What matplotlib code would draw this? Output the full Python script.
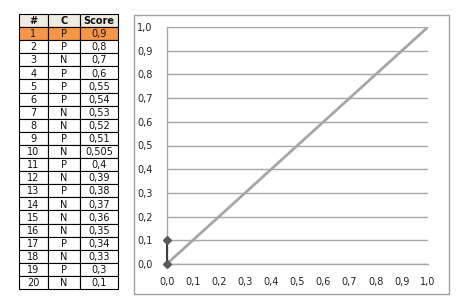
import matplotlib.pyplot as plt
from matplotlib.patches import Rectangle
import numpy as np

# ranked instances: rank, true class, classifier score
ranks = list(range(1, 21))
classes = ["P", "P", "N", "P", "P", "P", "N", "N", "P", "N",
           "P", "N", "P", "N", "N", "N", "P", "N", "P", "N"]
scores = ["0,9", "0,8", "0,7", "0,6", "0,55", "0,54", "0,53", "0,52", "0,51", "0,505",
          "0,4", "0,39", "0,38", "0,37", "0,36", "0,35", "0,34", "0,33", "0,3", "0,1"]
headers = ["#", "C", "Score"]

# ROC points so far (threshold at first instance) and the diagonal
roc_fpr = [0.0, 0.0]
roc_tpr = [0.0, 0.1]
diag_x = [0.0, 1.0]
diag_y = [0.0, 1.0]
ticks = [0.0, 0.1, 0.2, 0.3, 0.4, 0.5, 0.6, 0.7, 0.8, 0.9, 1.0]

W, H = 474, 306
fig = plt.figure(figsize=(W / 100, H / 100), dpi=100)
fig.patch.set_facecolor("white")


def px_axes(x0, y0, x1, y1):
    # axes from pixel box (top-left origin)
    return fig.add_axes([x0 / W, 1 - y1 / H, (x1 - x0) / W, (y1 - y0) / H])


# ---- table ----
tab = px_axes(19, 14, 118, 289)
tab.set_axis_off()
col_w = [29, 32, 38]
col_x = np.concatenate([[0], np.cumsum(col_w)])
nrows = len(ranks) + 1
tab.set_xlim(0, col_x[-1])
tab.set_ylim(nrows, 0)

for r in range(nrows):
    if r == 0:
        bg = "#eeece1"
        cells = headers
    else:
        bg = "#f79646" if r == 1 else "white"
        cells = [str(ranks[r - 1]), classes[r - 1], scores[r - 1]]
    for c in range(3):
        tab.add_patch(Rectangle((col_x[c], r), col_w[c], 1, facecolor=bg,
                                edgecolor="black", linewidth=0.8, clip_on=False))
        tab.text((col_x[c] + col_x[c + 1]) / 2, r + 0.55, cells[c],
                 ha="center", va="center", fontsize=7, color="#111111",
                 fontweight="bold" if r == 0 else "normal")

# ---- chart ----
frame = Rectangle((134 / W, 1 - 294 / H), (449 - 134) / W, (294 - 15) / H,
                  transform=fig.transFigure, facecolor="white",
                  edgecolor="#a0a0a0", linewidth=1.0, zorder=-1)
fig.patches.append(frame)

ax = px_axes(166.7, 27, 428, 264)
ax.patch.set_alpha(0)
ax.set_xlim(0, 1)
ax.set_ylim(0, 1)
ax.set_xticks(ticks)
ax.set_yticks(ticks)
ax.set_xticklabels([f"{t:.1f}".replace(".", ",") for t in ticks])
ax.set_yticklabels([f"{t:.1f}".replace(".", ",") for t in ticks])
ax.tick_params(length=0, labelsize=7, labelcolor="#222222")
ax.tick_params(axis="x", pad=9)
ax.tick_params(axis="y", pad=10)

for s in ["top", "right"]:
    ax.spines[s].set_visible(False)
ax.spines["left"].set_color("#a6a6a6")
ax.spines["bottom"].set_color("#a6a6a6")
ax.spines["left"].set_linewidth(1.0)
ax.spines["bottom"].set_linewidth(1.0)

ax.yaxis.grid(True, color="#a6a6a6", linewidth=1.0)
ax.set_axisbelow(True)

ax.plot(diag_x, diag_y, color="#a6a6a6", linewidth=2.0, solid_capstyle="butt")
ax.plot(roc_fpr, roc_tpr, color="#404040", linewidth=1.5, marker="D",
        markersize=4, markerfacecolor="#595959", markeredgecolor="#595959",
        clip_on=False, zorder=5)

fig.savefig("out.png", dpi=100)
